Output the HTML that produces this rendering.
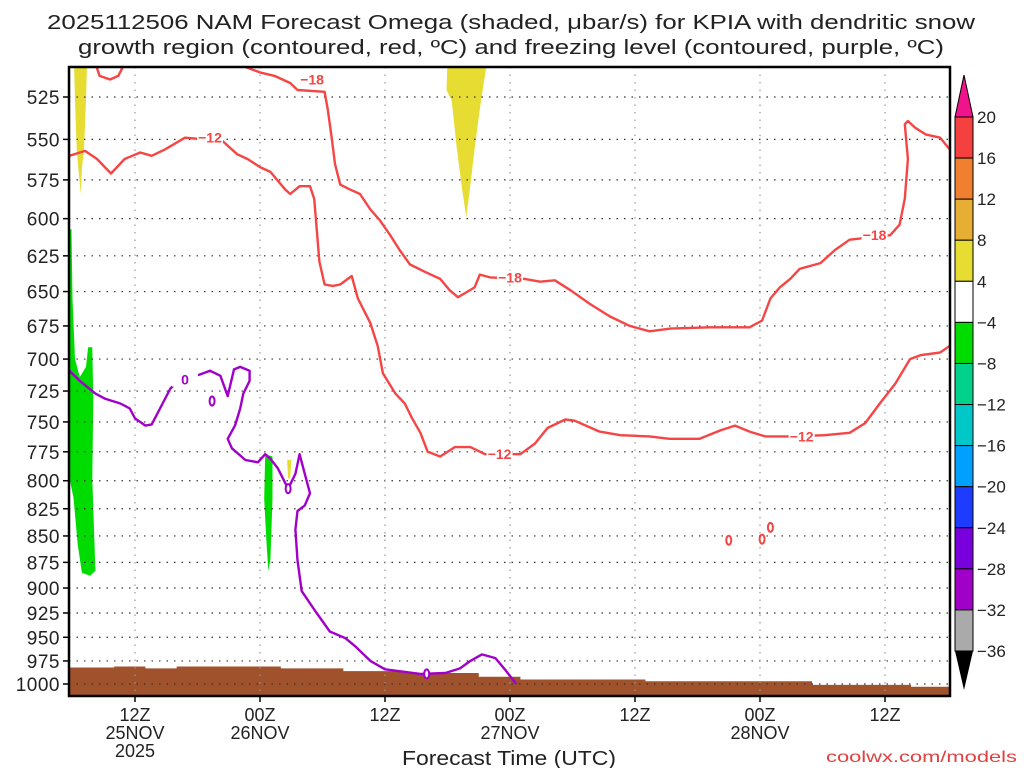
<!DOCTYPE html>
<html><head><meta charset="utf-8"><style>
body{margin:0;background:#fff;width:1024px;height:768px;overflow:hidden;font-family:"Liberation Sans","DejaVu Sans",sans-serif}
svg text{font-family:"Liberation Sans","DejaVu Sans",sans-serif}
</style></head><body>
<svg id="chart" width="1024" height="768" viewBox="0 0 1024 768" xmlns="http://www.w3.org/2000/svg">
<text x="47" y="29" font-size="20" textLength="928" lengthAdjust="spacingAndGlyphs" fill="#222">2025112506 NAM Forecast Omega (shaded, μbar/s) for KPIA with dendritic snow</text>
<text x="78" y="54" font-size="20" textLength="866" lengthAdjust="spacingAndGlyphs" fill="#222">growth region (contoured, red, ºC) and freezing level (contoured, purple, ºC)</text>
<defs><clipPath id="pc"><rect x="69" y="67" width="881" height="629"/></clipPath></defs>
<g id="plot" clip-path="url(#pc)"></g>
<g id="axes"></g>
<g id="cbar"></g>
<text x="402" y="765" font-size="20" textLength="214" lengthAdjust="spacingAndGlyphs" fill="#222">Forecast Time (UTC)</text>
<text x="826" y="762" font-size="16" textLength="191" lengthAdjust="spacingAndGlyphs" fill="#e04040">coolwx.com/models</text>
</svg>
<script>
// pressure levels (mb) and time ticks (hours since 06Z 25NOV)
const pLevels=[525,550,575,600,625,650,675,700,725,750,775,800,825,850,875,900,925,950,975,1000];
const tHours=[6,18,30,42,54,66,78];
const tLabels=[["12Z","25NOV","2025"],["00Z","26NOV"],["12Z"],["00Z","27NOV"],["12Z"],["00Z","28NOV"],["12Z"]];
// -12C contour
const m12H=[-0.3,1.2,2.35,3.7,5.0,6.5,7.6,8.9,10.8,14.4,15.8,16.8,18.0,19.0,20.4,20.9,21.8,22.8,23.2,23.7,24.2,25.0,25.7,26.8,27.4,28.6,29.3,29.8,31.0,31.9,32.6,33.4,34.1,35.3,36.7,38.2,39.6,43.0,44.4,45.6,47.3,48.2,50.6,52.6,55.4,57.3,60.2,62.2,63.6,65.0,66.5,68.9,72.2,74.6,76.1,77.5,79.0,80.4,81.4,83.3,84.2];
const m12P=[560,557,562,571,562,558,560,556,549,551,559,562,567,570,581,584,579,579,587,629,645,646,645,639,655,673,690,711,727,735,747,759,775,779,771,771,777,777,768,755,748,749,758,761,762,764,764,757,753,758,762,762,761,759,751,735,719,700,697,695,690];
// -18C contour
const m18H=[16.6,18.0,19.4,20.9,21.6,24.2,24.5,24.9,25.2,25.7,26.6,27.6,28.6,29.5,30.5,31.4,32.4,33.8,35.3,36.2,37.0,37.7,38.6,39.1,40.1,43.4,44.9,46.3,47.8,49.7,51.6,53.5,55.4,57.4,61.2,65.0,66.2,67.0,67.9,68.9,69.8,71.8,73.2,74.6,78.5,79.4,79.9,80.2,79.9,80.2,80.9,81.9,83.3,84.2];
const m18P=[508,511,513,517,521,522,532,550,565,578,581,584,594,601,611,621,631,636,641,649,654,651,647,638,640,641,643,642,649,659,668,675,679,677,676,676,671,655,647,641,634,630,621,614,611,604,587,562,541,539,543,547,549,556];
const m18bH=[2.2,2.6,3.6,4.4,5.0];
const m18bP=[506,513,515,513,506];
// 0C freezing level
const fzH=[-0.3,0.7,2.2,3.1,4.6,5.5,6.0,7.0,7.6,8.4,9.4,10.3,12.2,13.2,14.2,14.9,15.5,16.1,17.0,17.0,16.4,16.1,15.6,14.9,15.3,16.6,17.8,18.5,19.0,19.7,20.7,21.4,21.8,22.3,22.8,22.3,21.6,21.4,21.6,22.0,23.3,24.7,26.2,27.1,28.6,30.0,33.4,35.8,37.2,38.2,39.3,40.6,41.5,42.6];
const fzP=[709,717,727,731,735,739,747,753,752,739,723,716,712,709,713,729,708,706,709,717,727,739,753,764,772,782,784,777,781,789,807,794,777,794,811,822,827,844,873,903,923,944,951,959,975,984,989,988,983,975,968,972,984,1000];
// omega shading polygons
const yel1H=[0.14,1.4,1.3,1.1,0.9,0.8,0.6,0.4,0.24], yel1P=[505,505,527,556,568,584,571,556,527];
const yel2H=[36.0,39.8,39.1,38.6,38.2,37.8,37.4,36.9,36.4,35.9], yel2P=[505,505,532,556,578,599,581,556,527,521];
const yel3H=[20.6,21.0,20.9,20.7], yel3P=[782,782,798,798];
const grn1H=[-0.5,-0.1,0,0.24,0.7,1.3,1.5,1.9,2.0,1.9,2.2,1.7,0.9,0.5,0.1,-0.5], grn1P=[607,607,655,700,714,706,691,691,731,798,883,888,885,858,815,789];
const grn2H=[18.5,19.2,19.2,19.0,18.8,18.6,18.4], grn2P=[777,779,816,873,883,853,816];
// surface pressure (terrain)
const sfcH=[-1,4,7,10,20,26,32,39,43,55,71,80.5,86];
const sfcP=[982,981,983,981,983,986,988,992,995,997,1001,1003,1003];
// colorbar
const cbLabels=["20","16","12","8","4","-4","-8","-12","-16","-20","-24","-28","-32","-36"];
const cbColors=["#f54040","#f08030","#e6ae32","#e6dc32","#ffffff","#00dc00","#00d28c","#00c8c8","#00a0ff","#1e3cff","#7800dc","#a000c8","#aaaaaa"];

const NS="http://www.w3.org/2000/svg";
const xS=h=>72.5+h*125/12;
const yS=p=>97+Math.log(p/525)*911;
function mk(tag,attrs,parent){const e=document.createElementNS(NS,tag);for(const k in attrs)e.setAttribute(k,attrs[k]);parent.appendChild(e);return e;}
const plot=document.getElementById('plot'),axes=document.getElementById('axes'),cbar=document.getElementById('cbar');
function pts(H,P){return H.map((h,i)=>xS(h).toFixed(1)+','+yS(P[i]).toFixed(1)).join(' ');}

// terrain
let d='M'+xS(sfcH[0])+','+yS(1050);
sfcH.forEach((h,i)=>{d+=' L'+xS(h)+','+yS(sfcP[i]);if(i<sfcH.length-1)d+=' L'+xS(sfcH[i+1])+','+yS(sfcP[i]);});
d+=' L'+xS(sfcH[sfcH.length-1])+','+yS(1050)+'Z';
let t=mk('path',{d:d,fill:'#a0522d'},plot);



// shading
[[yel1H,yel1P,'#e6dc32','omega-yellow-1'],[yel2H,yel2P,'#e6dc32','omega-yellow-2'],[yel3H,yel3P,'#e6dc32','omega-yellow-3'],[grn1H,grn1P,'#00dc00','omega-green-1'],[grn2H,grn2P,'#00dc00','omega-green-2']].forEach(s=>{
 const e=mk('polygon',{points:pts(s[0],s[1]),fill:s[2]},plot);
 
 
});

// grid
pLevels.forEach(p=>{const g=mk('line',{x1:69,x2:950,y1:yS(p),y2:yS(p),stroke:'#333','stroke-width':1.2,'stroke-dasharray':'1.5,6'},plot);
 
 });
tHours.forEach(h=>{const g=mk('line',{x1:xS(h),x2:xS(h),y1:67,y2:696,stroke:'#999','stroke-width':1.2,'stroke-dasharray':'1.5,6'},plot);
 
 });

// contours
[[m12H,m12P,'#f54545','contour-minus12'],[m18H,m18P,'#f54545','contour-minus18'],[m18bH,m18bP,'#f54545','contour-minus18-small'],[fzH,fzP,'#a000c8','freezing-level']].forEach(s=>{
 const e=mk('polyline',{points:pts(s[0],s[1]),fill:'none',stroke:s[2],'stroke-width':2.4,'stroke-linejoin':'round'},plot);
 
 
});
// small purple / red loops
[[13.4,733,'#a000c8'],[20.7,807,'#a000c8'],[34.0,989,'#a000c8'],[66.2,853,'#f54545'],[67.0,842,'#f54545'],[63.0,854,'#f54545']].forEach(c=>{
 const e=mk('ellipse',{cx:xS(c[0]),cy:yS(c[1]),rx:2.5,ry:4.5,fill:'#fff',stroke:c[2],'stroke-width':2},plot);
 
 
});
// contour labels
[[13.2,549,'-12','#f54545'],[23.0,515,'-18','#f54545'],[42.0,640,'-18','#f54545'],[41.0,777,'-12','#f54545'],[70.0,762,'-12','#f54545'],[77.0,611,'-18','#f54545'],[10.8,716,'0','#a000c8']].forEach(l=>{
 const x=xS(l[0]),y=yS(l[1]);
 mk('rect',{x:x-13,y:y-7,width:26,height:14,fill:'#fff'},plot);
 const e=mk('text',{x:x,y:y+5,'font-size':14,'font-weight':'bold','text-anchor':'middle',fill:l[3]},plot);
 e.textContent=l[2].replace('-','−');
 
 
});

// frame
let f=mk('rect',{x:69,y:67,width:881,height:629,fill:'none',stroke:'#000','stroke-width':2.5},axes);


pLevels.forEach(p=>{
 mk('line',{x1:63,x2:69,y1:yS(p),y2:yS(p),stroke:'#000','stroke-width':1.5},axes);
 const e=mk('text',{x:60,y:yS(p)+7,'font-size':19,'text-anchor':'end','letter-spacing':'0.5',fill:'#222'},axes);
 e.textContent=p;
 
 
});
tHours.forEach((h,i)=>{
 mk('line',{x1:xS(h),x2:xS(h),y1:696,y2:702,stroke:'#000','stroke-width':1.5},axes);
 tLabels[i].forEach((s,j)=>{
  const e=mk('text',{x:xS(h),y:721+j*18,'font-size':18,'text-anchor':'middle',fill:'#222'},axes);
  e.textContent=s;
  
  
 });
});

// colorbar
const cbTop=117,cbStep=(651-117)/13,cx=955,cw=18;
let tri=mk('polygon',{points:`${cx},${cbTop} ${cx+cw},${cbTop} ${cx+cw/2},75`,fill:'#f0148c',stroke:'#000'},cbar);


cbColors.forEach((c,i)=>{
 const r=mk('rect',{x:cx,y:cbTop+i*cbStep,width:cw,height:cbStep,fill:c,stroke:'#000','stroke-width':1},cbar);
 
 
});
let tri2=mk('polygon',{points:`${cx},651 ${cx+cw},651 ${cx+cw/2},690`,fill:'#000'},cbar);


cbLabels.forEach((s,i)=>{
 const e=mk('text',{x:977,y:cbTop+i*cbStep+6,'font-size':17,fill:'#222'},cbar);
 e.textContent=s.replace('-','−');
 
 
});
</script>
</body></html>
